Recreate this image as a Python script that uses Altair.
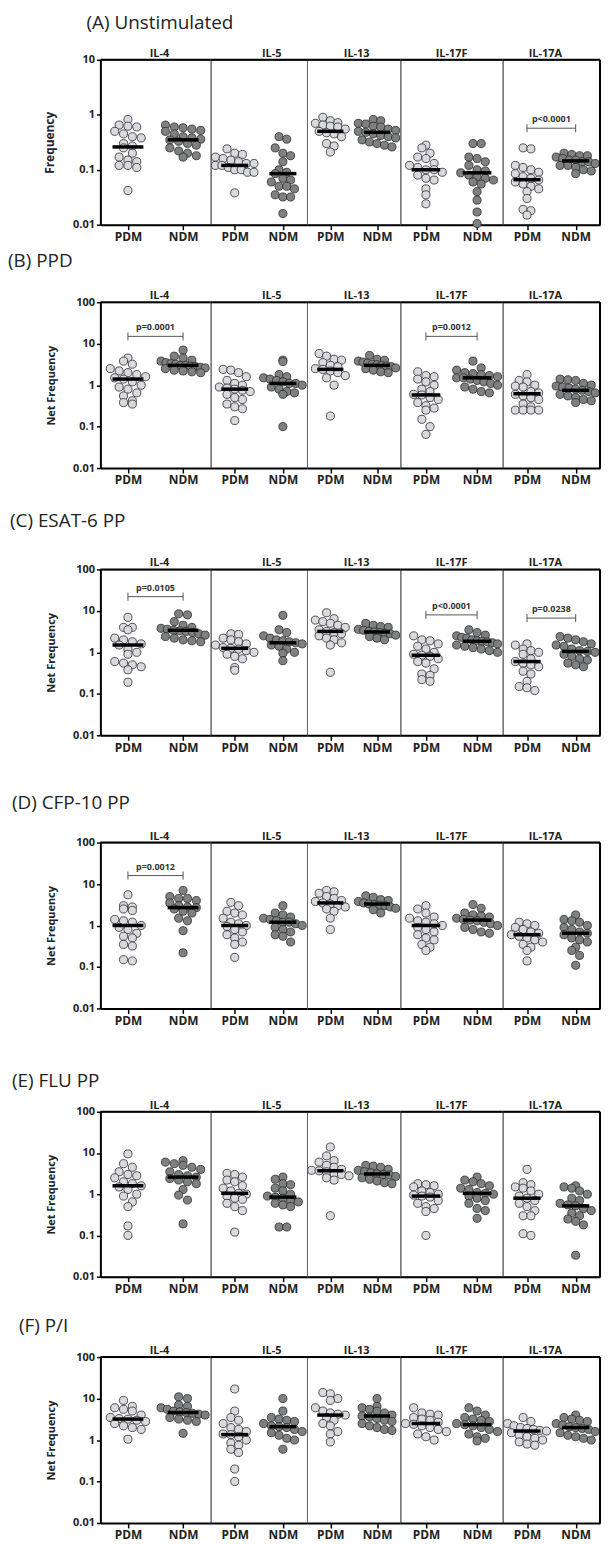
import altair as alt
import pandas as pd

CYTOKINES = ["IL-4", "IL-5", "IL-13", "IL-17F", "IL-17A"]
GROUPS = ["PDM", "NDM"]
PANEL_TITLES = ["(A) Unstimulated", "(B) PPD", "(C) ESAT-6 PP", "(D) CFP-10 PP", "(E) FLU PP", "(F) P/I"]
Y_TITLES = ["Frequency", "Net Frequency", "Net Frequency", "Net Frequency", "Net Frequency", "Net Frequency"]
Y_TICKS_A = [0.01, 0.1, 1, 10]
Y_TICKS = [0.01, 0.1, 1, 10, 100]

# ---------------- (A) Unstimulated ----------------
A_PDM = [
    [0.82, 0.65, 0.62, 0.6, 0.5, 0.45, 0.4, 0.38, 0.3, 0.27, 0.25, 0.2, 0.17, 0.15, 0.14, 0.12, 0.12, 0.11, 0.042],
    [0.24, 0.2, 0.19, 0.17, 0.16, 0.15, 0.14, 0.13, 0.13, 0.12, 0.12, 0.11, 0.1, 0.1, 0.09, 0.09, 0.038],
    [0.9, 0.78, 0.72, 0.7, 0.65, 0.62, 0.6, 0.55, 0.5, 0.47, 0.45, 0.4, 0.3, 0.27, 0.21],
    [0.28, 0.25, 0.2, 0.17, 0.16, 0.13, 0.12, 0.11, 0.1, 0.1, 0.09, 0.08, 0.07, 0.065, 0.045, 0.035, 0.024],
    [0.25, 0.24, 0.12, 0.11, 0.1, 0.09, 0.085, 0.075, 0.07, 0.065, 0.06, 0.055, 0.05, 0.045, 0.04, 0.03, 0.019, 0.018, 0.015],
]
A_NDM = [
    [0.65, 0.6, 0.58, 0.55, 0.52, 0.5, 0.45, 0.4, 0.38, 0.36, 0.35, 0.33, 0.3, 0.28, 0.25, 0.22, 0.2, 0.18, 0.17],
    [0.4, 0.36, 0.25, 0.2, 0.18, 0.14, 0.1, 0.09, 0.085, 0.07, 0.065, 0.06, 0.05, 0.05, 0.045, 0.035, 0.032, 0.032, 0.016],
    [0.82, 0.78, 0.7, 0.68, 0.62, 0.6, 0.55, 0.52, 0.5, 0.48, 0.45, 0.42, 0.4, 0.38, 0.35, 0.32, 0.3, 0.28, 0.26],
    [0.3, 0.3, 0.17, 0.16, 0.14, 0.12, 0.1, 0.095, 0.088, 0.08, 0.075, 0.07, 0.065, 0.06, 0.055, 0.04, 0.028, 0.017, 0.0105],
    [0.2, 0.19, 0.18, 0.18, 0.17, 0.16, 0.15, 0.15, 0.14, 0.14, 0.13, 0.12, 0.12, 0.11, 0.1, 0.095, 0.085],
]
A_MED_PDM = [0.26, 0.12, 0.5, 0.1, 0.066]
A_MED_NDM = [0.35, 0.085, 0.48, 0.088, 0.145]
A_PVALS = [("IL-17A", "p<0.0001", 0.57)]

# ---------------- (B) PPD ----------------
B_PDM = [
    [4.5, 3.8, 3.2, 2.5, 2.2, 2.0, 1.8, 1.6, 1.5, 1.4, 1.2, 1.0, 0.9, 0.8, 0.65, 0.55, 0.42, 0.38, 0.35],
    [2.4, 2.3, 2.0, 1.6, 1.3, 1.1, 1.0, 0.9, 0.85, 0.8, 0.75, 0.7, 0.6, 0.5, 0.45, 0.35, 0.3, 0.27, 0.14],
    [5.8, 5.0, 4.2, 4.0, 3.5, 3.0, 2.8, 2.5, 2.4, 2.2, 2.0, 1.7, 1.5, 1.0, 0.18],
    [2.1, 1.7, 1.6, 1.4, 1.2, 1.0, 0.8, 0.7, 0.6, 0.58, 0.5, 0.45, 0.38, 0.32, 0.28, 0.25, 0.15, 0.1, 0.065],
    [1.8, 1.3, 1.2, 1.0, 0.95, 0.9, 0.7, 0.65, 0.6, 0.55, 0.5, 0.45, 0.35, 0.3, 0.25, 0.25, 0.25, 0.25],
]
B_NDM = [
    [7.0, 5.0, 4.5, 4.0, 3.8, 3.5, 3.3, 3.2, 3.0, 3.0, 2.9, 2.8, 2.7, 2.6, 2.5, 2.3, 2.2, 2.1, 2.0],
    [4.0, 3.7, 1.8, 1.6, 1.5, 1.4, 1.3, 1.2, 1.1, 1.1, 1.0, 0.9, 0.8, 0.7, 0.65, 0.6, 0.1],
    [5.2, 4.2, 4.0, 3.8, 3.6, 3.4, 3.2, 3.1, 3.0, 2.9, 2.8, 2.6, 2.5, 2.3, 2.1, 2.0],
    [3.8, 2.6, 2.3, 2.0, 1.9, 1.8, 1.7, 1.6, 1.5, 1.5, 1.4, 1.3, 1.2, 1.1, 1.0, 0.9, 0.8, 0.7, 0.65],
    [1.4, 1.35, 1.3, 1.1, 1.0, 0.95, 0.9, 0.85, 0.8, 0.75, 0.7, 0.65, 0.6, 0.55, 0.5, 0.45, 0.42, 0.38],
]
B_MED_PDM = [1.4, 0.8, 2.4, 0.58, 0.62]
B_MED_NDM = [3.0, 1.1, 3.0, 1.5, 0.75]
B_PVALS = [("IL-4", "p=0.0001", 15), ("IL-17F", "p=0.0012", 15)]

# ---------------- (C) ESAT-6 PP ----------------
C_PDM = [
    [7.0, 4.0, 4.0, 3.5, 2.2, 2.0, 1.8, 1.6, 1.5, 1.2, 1.0, 0.9, 0.6, 0.55, 0.5, 0.45, 0.38, 0.19],
    [2.8, 2.7, 2.2, 2.0, 1.8, 1.6, 1.5, 1.3, 1.25, 1.2, 1.1, 1.0, 0.9, 0.8, 0.7, 0.43, 0.37],
    [9.0, 6.5, 6.0, 5.5, 5.0, 4.5, 4.0, 3.5, 3.2, 3.0, 2.8, 2.5, 2.2, 2.0, 1.7, 1.5, 0.33],
    [2.5, 2.0, 1.9, 1.6, 1.4, 1.2, 1.0, 0.9, 0.85, 0.8, 0.7, 0.6, 0.55, 0.4, 0.3, 0.28, 0.22, 0.2],
    [1.6, 1.5, 1.2, 1.1, 1.0, 0.9, 0.7, 0.6, 0.55, 0.5, 0.45, 0.35, 0.3, 0.2, 0.15, 0.14, 0.12],
]
C_NDM = [
    [8.5, 8.0, 5.5, 4.5, 4.0, 3.8, 3.6, 3.4, 3.3, 3.2, 3.0, 2.8, 2.6, 2.4, 2.2, 2.0, 1.9, 1.8],
    [7.8, 3.5, 3.0, 2.5, 2.2, 2.0, 1.9, 1.8, 1.7, 1.6, 1.5, 1.4, 1.2, 1.0, 0.95, 0.63],
    [5.0, 4.5, 4.2, 4.0, 3.6, 3.4, 3.2, 3.1, 3.0, 2.9, 2.8, 2.6, 2.4, 2.2, 2.0],
    [3.5, 3.0, 2.6, 2.5, 2.3, 2.2, 2.0, 1.9, 1.85, 1.8, 1.7, 1.6, 1.5, 1.4, 1.3, 1.2, 1.1, 1.0],
    [2.4, 2.2, 2.0, 1.8, 1.6, 1.5, 1.4, 1.2, 1.1, 1.05, 1.0, 0.9, 0.8, 0.7, 0.65, 0.55, 0.5, 0.45],
]
C_MED_PDM = [1.5, 1.25, 3.2, 0.85, 0.6]
C_MED_NDM = [3.4, 1.7, 3.1, 1.85, 1.05]
C_PVALS = [("IL-4", "p=0.0105", 22), ("IL-17F", "p<0.0001", 8.0), ("IL-17A", "p=0.0238", 6.7)]

# ---------------- (D) CFP-10 PP ----------------
D_PDM = [
    [5.5, 3.0, 2.8, 2.5, 2.3, 1.4, 1.3, 1.2, 1.0, 0.9, 0.8, 0.65, 0.55, 0.5, 0.35, 0.32, 0.15, 0.14],
    [3.6, 3.0, 2.2, 2.0, 1.8, 1.5, 1.2, 1.1, 1.0, 0.95, 0.8, 0.7, 0.6, 0.5, 0.4, 0.35, 0.17],
    [7.0, 6.5, 6.0, 5.0, 4.5, 4.0, 3.8, 3.5, 3.3, 3.0, 2.8, 2.5, 2.2, 1.5, 0.8],
    [3.0, 2.5, 2.0, 1.6, 1.5, 1.3, 1.2, 1.1, 1.0, 0.9, 0.8, 0.7, 0.6, 0.5, 0.45, 0.35, 0.3, 0.25],
    [1.2, 1.1, 1.0, 0.9, 0.8, 0.7, 0.65, 0.6, 0.55, 0.5, 0.45, 0.4, 0.35, 0.3, 0.25, 0.14],
]
D_NDM = [
    [7.0, 5.0, 4.5, 4.5, 4.0, 3.5, 3.0, 2.8, 2.7, 2.5, 2.2, 2.0, 1.5, 1.3, 0.75, 0.22],
    [3.0, 2.0, 1.8, 1.6, 1.5, 1.4, 1.3, 1.2, 1.2, 1.1, 1.0, 0.9, 0.8, 0.7, 0.6, 0.55, 0.4],
    [5.2, 4.8, 4.2, 4.0, 3.8, 3.5, 3.3, 3.2, 3.1, 3.0, 2.8, 2.6, 2.4, 2.0],
    [3.2, 2.6, 2.0, 1.8, 1.7, 1.6, 1.5, 1.4, 1.35, 1.3, 1.2, 1.1, 1.0, 0.9, 0.8, 0.7, 0.65],
    [1.8, 1.4, 1.3, 1.2, 1.0, 0.9, 0.8, 0.7, 0.65, 0.6, 0.5, 0.45, 0.4, 0.3, 0.25, 0.19, 0.11],
]
D_MED_PDM = [1.0, 1.0, 3.5, 1.0, 0.6]
D_MED_NDM = [2.7, 1.2, 3.3, 1.35, 0.65]
D_PVALS = [("IL-4", "p=0.0012", 16)]

# ---------------- (E) FLU PP ----------------
E_PDM = [
    [9.5, 5.5, 4.5, 3.5, 3.0, 2.8, 2.5, 2.0, 1.8, 1.6, 1.5, 1.3, 1.0, 0.9, 0.65, 0.5, 0.17, 0.1],
    [3.2, 3.0, 2.6, 2.2, 2.0, 1.6, 1.4, 1.2, 1.05, 1.0, 0.9, 0.8, 0.75, 0.6, 0.5, 0.4, 0.12],
    [14, 8.5, 6.5, 6.0, 5.0, 4.5, 4.0, 3.8, 3.7, 3.5, 3.2, 3.0, 2.8, 2.5, 2.2, 0.3],
    [1.8, 1.7, 1.6, 1.5, 1.2, 1.1, 1.0, 0.95, 0.9, 0.85, 0.7, 0.6, 0.5, 0.45, 0.38, 0.1],
    [4.0, 1.9, 1.7, 1.5, 1.4, 1.2, 1.0, 0.9, 0.8, 0.7, 0.6, 0.5, 0.4, 0.3, 0.3, 0.11, 0.1],
]
E_NDM = [
    [6.5, 6.0, 5.5, 5.0, 4.5, 4.0, 3.5, 3.0, 2.8, 2.6, 2.4, 2.2, 2.0, 1.8, 1.3, 0.95, 0.72, 0.19],
    [2.6, 2.3, 1.8, 1.7, 1.4, 1.2, 1.0, 0.9, 0.85, 0.8, 0.7, 0.65, 0.6, 0.55, 0.5, 0.16, 0.16],
    [5.0, 4.8, 4.5, 4.0, 3.8, 3.5, 3.3, 3.1, 3.0, 2.9, 2.7, 2.5, 2.3, 2.1, 1.9, 1.8],
    [2.6, 2.2, 2.0, 1.8, 1.6, 1.4, 1.3, 1.1, 1.05, 1.0, 0.9, 0.8, 0.7, 0.6, 0.45, 0.4, 0.26],
    [1.6, 1.5, 1.4, 1.2, 1.0, 0.8, 0.7, 0.6, 0.55, 0.52, 0.45, 0.4, 0.35, 0.3, 0.25, 0.22, 0.18, 0.033],
]
E_MED_PDM = [1.6, 1.05, 3.7, 0.9, 0.8]
E_MED_NDM = [2.6, 0.85, 3.1, 1.05, 0.52]
E_PVALS = []

# ---------------- (F) P/I ----------------
F_PDM = [
    [9.0, 6.5, 6.0, 5.5, 5.0, 4.0, 3.5, 3.3, 3.2, 3.0, 2.8, 2.5, 2.2, 2.0, 1.8, 1.05],
    [17, 5.0, 3.5, 3.0, 2.5, 2.0, 1.8, 1.6, 1.4, 1.35, 1.2, 1.0, 0.85, 0.75, 0.6, 0.5, 0.2, 0.1],
    [14, 13, 10, 9.0, 6.0, 5.0, 4.5, 4.2, 4.0, 3.5, 3.0, 2.5, 2.2, 1.6, 1.4, 0.9],
    [6.0, 4.5, 4.2, 4.0, 3.5, 3.2, 3.0, 2.7, 2.5, 2.4, 2.2, 2.0, 1.8, 1.6, 1.4, 1.2, 1.0],
    [3.5, 2.8, 2.5, 2.2, 2.0, 1.9, 1.8, 1.7, 1.65, 1.5, 1.3, 1.2, 1.1, 1.0, 0.9, 0.8, 0.75],
]
F_NDM = [
    [11, 10, 7.0, 6.5, 6.0, 5.5, 5.0, 4.8, 4.6, 4.4, 4.2, 4.0, 3.5, 3.2, 3.0, 2.8, 1.45],
    [10, 5.0, 3.5, 3.2, 3.0, 2.8, 2.5, 2.2, 2.1, 2.0, 1.8, 1.6, 1.5, 1.3, 1.1, 1.0, 0.6],
    [10, 6.5, 6.0, 5.5, 5.0, 4.5, 4.0, 3.8, 3.6, 3.3, 3.0, 2.8, 2.5, 2.2, 2.0, 1.8, 1.7],
    [6.0, 5.0, 4.0, 3.5, 3.2, 3.0, 2.8, 2.5, 2.35, 2.2, 2.0, 1.8, 1.6, 1.4, 1.2, 1.1, 0.95],
    [4.0, 3.5, 3.2, 3.0, 2.8, 2.5, 2.3, 2.1, 2.0, 1.9, 1.8, 1.6, 1.5, 1.3, 1.2, 1.1, 1.0],
]
F_MED_PDM = [3.2, 1.35, 4.0, 2.5, 1.65]
F_MED_NDM = [4.6, 2.1, 3.8, 2.35, 2.0]
F_PVALS = []

PANELS = [
    (A_PDM, A_NDM, A_MED_PDM, A_MED_NDM, A_PVALS),
    (B_PDM, B_NDM, B_MED_PDM, B_MED_NDM, B_PVALS),
    (C_PDM, C_NDM, C_MED_PDM, C_MED_NDM, C_PVALS),
    (D_PDM, D_NDM, D_MED_PDM, D_MED_NDM, D_PVALS),
    (E_PDM, E_NDM, E_MED_PDM, E_MED_NDM, E_PVALS),
    (F_PDM, F_NDM, F_MED_PDM, F_MED_NDM, F_PVALS),
]

# ---------------- layout / style ----------------
FONT = "Open Sans"
SUB_W = [111, 97, 94, 103, 98]
PLOT_H = [166, 167, 167, 167, 166, 167]
HEADER_DX = [4, 13, 3, 0, -6]
HEADER_DY = [7, 2, 2, 2, 2]
TITLE_DX = [-14, -93, -91, -89, -89, -82]
TITLE_OFFSET = [15, 19, 26, 17, 8, 9]
TITLE_EXTRA = [0, 0, 17, 32, 37, 13]
FILLS = ["#d9d9e0", "#7f8081"]
HALF_MED = 0.28
CAP = [1.18, 1.25, 1.25, 1.25, 1.25, 1.25]
BIN_W = [0.15, 0.2, 0.2, 0.2, 0.2, 0.2]
STEP = 0.16
MAX_HALF = 0.4


def sub_chart(p, ci):
    pdm, ndm, med_p, med_n, pvals = PANELS[p]
    cyt = CYTOKINES[ci]
    w = SUB_W[ci]
    h = PLOT_H[p]
    rows = []
    for gi, vals in enumerate([pdm[ci], ndm[ci]]):
        for v in vals:
            rows.append({"gi": gi, "group": GROUPS[gi], "value": v})
    df = pd.DataFrame(rows)
    med_df = pd.DataFrame({"gi": [0, 1], "median": [med_p[ci], med_n[ci]]})

    ymax = 10 if p == 0 else 100
    yticks = Y_TICKS_A if p == 0 else Y_TICKS
    yscale = alt.Scale(type="log", domain=[0.01, ymax], nice=False)
    xscale = alt.Scale(domain=[-0.5, 1.5], nice=False, zero=False)
    xaxis = alt.Axis(
        values=[0, 1], labelExpr="datum.value == 0 ? 'PDM' : 'NDM'", title=None,
        grid=False, domainColor="black", domainWidth=2, tickColor="black", tickWidth=1.5,
        tickSize=5, labelFont=FONT, labelFontSize=12, labelFontWeight="bold",
        labelColor="#222", labelPadding=2, labelFlush=False,
    )
    if ci == 0:
        yaxis = alt.Axis(
            values=yticks, format="~g", title=Y_TITLES[p], grid=False,
            domainColor="black", domainWidth=2, tickColor="black", tickWidth=1.5, tickSize=4,
            labelFont=FONT, labelFontSize=11, labelFontWeight="bold", labelColor="#222",
            labelPadding=2, titleFont=FONT, titleFontSize=12 if p == 0 else 11,
            titleFontWeight="bold", titleColor="#222", titlePadding=16,
        )
    else:
        yaxis = None

    bw = BIN_W[p]
    pts = alt.Chart(df).transform_calculate(
        lb=f"floor(log(datum.value) / LN10 / {bw})"
    ).transform_window(
        rn="row_number()", groupby=["gi", "lb"], sort=[alt.SortField("value", order="descending")]
    ).transform_joinaggregate(
        n="count()", groupby=["gi", "lb"]
    ).transform_calculate(
        st=f"datum.n > 1 ? min({STEP}, {2 * MAX_HALF} / (datum.n - 1)) : 0"
    ).transform_calculate(
        xp="datum.gi + (datum.rn - 1 - (datum.n - 1) / 2) * datum.st"
    ).mark_circle(size=66, opacity=1, stroke="#2a2a2a", strokeWidth=0.8).encode(
        x=alt.X("xp:Q", scale=xscale, axis=xaxis),
        y=alt.Y("value:Q", scale=yscale, axis=yaxis),
        fill=alt.Fill("group:N", scale=alt.Scale(domain=GROUPS, range=FILLS), legend=None),
    )

    meds = alt.Chart(med_df).transform_calculate(
        x1=f"datum.gi - {HALF_MED}", x2=f"datum.gi + {HALF_MED}"
    ).mark_rule(color="black", strokeWidth=3.5).encode(
        x=alt.X("x1:Q", scale=xscale, axis=xaxis),
        x2="x2:Q",
        y=alt.Y("median:Q", scale=yscale, axis=yaxis),
    )

    layers = [pts, meds]

    br = [(lab, yv) for (c, lab, yv) in pvals if c == cyt]
    if br:
        lab, yv = br[0]
        bdf = pd.DataFrame({"g0": [0], "g1": [1], "y": [yv], "label": [lab]})
        cf = CAP[p]
        line = alt.Chart(bdf).mark_rule(color="#555", strokeWidth=1).encode(
            x=alt.X("g0:Q", scale=xscale, axis=xaxis), x2="g1:Q",
            y=alt.Y("y:Q", scale=yscale, axis=yaxis),
        )
        cdf = pd.DataFrame({"g": [0, 1], "y": [yv, yv]})
        caps = alt.Chart(cdf).transform_calculate(
            ylo=f"datum.y / {cf}", yhi=f"datum.y * {cf}"
        ).mark_rule(color="#555", strokeWidth=1).encode(
            x=alt.X("g:Q", scale=xscale, axis=xaxis),
            y=alt.Y("ylo:Q", scale=yscale, axis=yaxis), y2="yhi:Q",
        )
        txt = alt.Chart(bdf).transform_calculate(
            xm="(datum.g0 + datum.g1) / 2"
        ).mark_text(font=FONT, fontSize=9, fontWeight="bold", color="#333",
                    baseline="bottom", dy=-4).encode(
            x=alt.X("xm:Q", scale=xscale, axis=xaxis),
            y=alt.Y("y:Q", scale=yscale, axis=yaxis),
            text="label:N",
        )
        layers += [line, caps, txt]

    top = alt.Chart().mark_rule(color="black", strokeWidth=2).encode(
        x=alt.value(0), x2=alt.value(w), y=alt.value(0)
    )
    layers.append(top)
    if ci == len(CYTOKINES) - 1:
        right = alt.Chart().mark_rule(color="black", strokeWidth=2).encode(
            x=alt.value(w), y=alt.value(0), y2=alt.value(h)
        )
        layers.append(right)

    return alt.layer(*layers).properties(
        width=w, height=h,
        title=alt.TitleParams(text=cyt, font=FONT, fontSize=11, fontWeight="bold",
                              color="#222", offset=2, anchor="middle",
                              dx=HEADER_DX[ci], dy=HEADER_DY[ci]),
    )


rows = []
for p in range(6):
    extra = TITLE_EXTRA[p]
    tp = dict(anchor="start", frame="group", dx=TITLE_DX[p], offset=TITLE_OFFSET[p],
              font=FONT, fontSize=19, fontWeight="normal", color="#222")
    if extra > 0:
        tp["text"] = ["", PANEL_TITLES[p]]
        tp["lineHeight"] = extra
    else:
        tp["text"] = PANEL_TITLES[p]
    row = alt.hconcat(*[sub_chart(p, ci) for ci in range(5)], spacing=0, bounds="flush",
                      title=alt.TitleParams(**tp))
    rows.append(row)

chart = alt.vconcat(*rows, spacing=8).properties(
    padding={"left": 0, "top": 0, "right": 0, "bottom": 0}
).configure_view(stroke="#666", strokeWidth=1)

chart.save("out.html", embed_options={"renderer": "svg", "actions": False})
